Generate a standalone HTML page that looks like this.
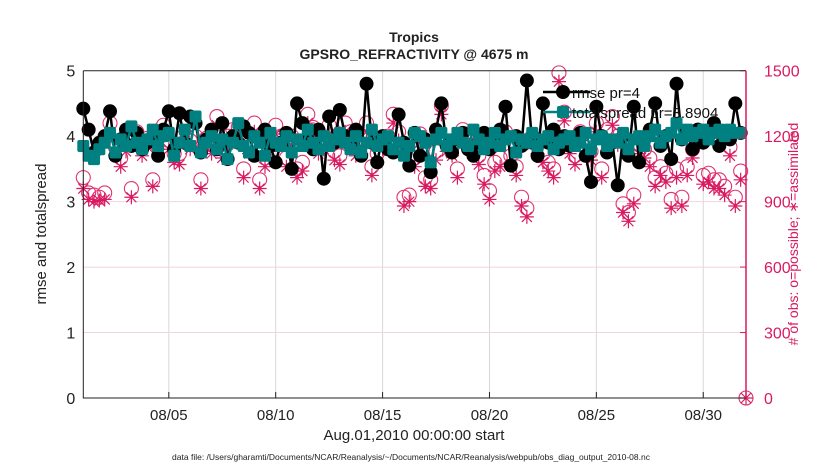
<!DOCTYPE html>
<html><head><meta charset="utf-8"><style>
body{margin:0;background:#fff;}
svg{display:block;font-family:"Liberation Sans",Arial,sans-serif;}
</style></head><body>
<svg id="chart" width="830" height="470">
<g id="grid"></g>
<g id="obs"></g>
<g id="lines"></g>
<g id="axes"></g>
<text x="414" y="42" text-anchor="middle" font-size="14" font-weight="bold" fill="#222">Tropics</text>
<text x="414" y="59" text-anchor="middle" font-size="14" font-weight="bold" fill="#222">GPSRO_REFRACTIVITY @ 4675 m</text>
<text x="414" y="440" text-anchor="middle" font-size="15" fill="#222">Aug.01,2010 00:00:00 start</text>
<text x="411" y="460" text-anchor="middle" font-size="8.5" fill="#222">data file: /Users/gharamti/Documents/NCAR/Reanalysis/~/Documents/NCAR/Reanalysis/webpub/obs_diag_output_2010-08.nc</text>
<text transform="translate(46,234) rotate(-90)" text-anchor="middle" font-size="15" fill="#222">rmse and totalspread</text>
<text transform="translate(798,234) rotate(-90)" text-anchor="middle" font-size="14" fill="#d81b60"># of obs: o=possible; &#x2217;=assimilated</text>
<g id="legend">
  <line x1="543" y1="92" x2="590" y2="92" stroke="#000" stroke-width="2.5"/>
  <circle cx="563" cy="92" r="7" fill="#000"/>
  <text x="572" y="98" font-size="15" fill="#111">rmse pr=4</text>
  <line x1="543" y1="112" x2="590" y2="112" stroke="#008080" stroke-width="2.5"/>
  <rect x="557" y="106" width="12" height="12" rx="2" fill="#008080"/>
  <text x="572" y="118" font-size="15" fill="#111">totalspread pr=3.8904</text>
</g>
</svg>
<script>
const rmse=[4.42,4.1,3.75,3.9,4.0,4.38,3.7,3.95,4.1,3.85,
4.05,3.8,3.9,4.0,3.7,4.1,4.38,3.8,4.35,3.9,
4.3,4.2,3.75,3.95,4.1,3.8,4.2,3.65,4.0,3.9,
4.15,4.05,3.7,3.95,4.1,3.85,3.6,3.9,4.05,3.5,
4.5,4.2,3.95,3.8,4.1,3.35,4.3,3.9,4.4,4.0,
3.85,4.1,3.7,4.8,3.9,3.6,4.0,3.8,3.75,4.33,
3.9,3.55,4.05,3.7,3.95,3.45,4.1,4.5,3.85,3.75,
3.95,4.05,3.8,3.7,3.9,4.05,3.8,3.95,4.1,4.45,
3.55,4.0,3.85,4.85,3.9,3.7,4.5,3.9,4.1,3.8,
4.0,3.85,3.95,4.05,3.7,3.3,4.45,4.0,3.75,3.9,
3.25,4.0,3.7,4.45,3.6,3.95,4.1,4.5,3.85,4.0,
3.65,4.8,3.95,4.05,3.8,4.1,3.9,4.0,4.2,3.85,
4.05,3.95,4.5,4.05,null];
const spread=[3.85,3.7,3.65,3.8,3.9,4.05,3.75,3.95,3.85,4.15,
3.9,3.8,3.95,4.1,3.85,4.0,4.05,3.7,3.9,4.1,
3.85,4.3,3.75,3.9,4.0,3.8,3.95,3.65,3.9,4.2,
3.85,3.75,4.0,3.9,3.7,4.05,3.9,3.85,4.0,3.75,
3.95,3.85,4.1,3.9,3.8,4.0,3.85,3.95,4.05,3.9,
3.8,4.0,3.75,3.9,4.1,3.85,3.95,4.0,3.8,3.9,
3.7,3.85,4.05,4.0,3.9,3.6,3.95,4.05,3.85,3.95,
4.05,3.9,3.85,4.1,3.95,3.8,3.9,4.05,3.85,3.95,
4.0,3.75,3.95,3.9,4.05,3.85,3.95,4.0,3.8,3.9,
3.95,4.0,3.85,3.9,4.05,3.8,3.95,4.0,3.85,3.95,
3.9,4.05,3.8,3.95,4.0,3.85,4.0,4.1,3.9,4.0,
4.05,4.2,3.95,4.1,4.0,4.05,4.1,3.95,4.05,4.1,
4.0,4.1,4.05,4.05,null];
const possible=[1010,940,930,920,940,1260,1150,1100,1180,960,
1220,1150,1190,1000,1190,1250,1180,1120,1120,1260,
1180,1200,1000,1190,1160,1290,1140,1200,1230,1240,
1050,1160,1260,1000,1100,1170,1250,1200,1100,1200,
1050,1080,1300,1240,1160,1180,1250,1130,1110,1260,
1220,1150,1160,1260,1060,1120,1180,1200,1300,1220,
920,930,1100,1210,1010,1000,1130,1340,1170,1150,
1050,1230,1210,1180,1110,1020,950,1080,1100,1220,
1110,1060,920,870,1200,1160,1120,1080,1050,1490,
1310,1160,1110,1220,1150,1130,1260,1050,1230,1290,
1200,890,850,930,1160,1140,1100,1010,1060,1030,
910,1050,920,1060,1140,1220,1020,1030,1000,1000,
970,1150,920,1040,0];
const assimilated=[960,910,900,905,910,1190,1110,1060,1130,920,
1170,1110,1150,970,1140,1200,1140,1080,1070,1220,
1140,1150,960,1150,1120,1250,1100,1160,1190,1200,
1010,1120,1220,960,1060,1130,1210,1160,1060,1160,
1010,1040,1260,1200,1120,1140,1210,1090,1070,1220,
1180,1110,1120,1220,1020,1080,1140,1160,1260,1180,
880,900,1060,1170,970,960,1090,1300,1130,1110,
1010,1190,1170,1140,1070,980,910,1040,1060,1180,
1070,1020,880,830,1160,1120,1080,1040,1010,1450,
1270,1120,1070,1180,1110,1090,1220,1010,1190,1250,
1160,850,810,890,1120,1100,1060,970,1020,990,
870,1010,880,1020,1100,1180,980,990,960,960,
930,1110,880,1000,0];
const xTickDays=[5,10,15,20,25,30];
const xTickLabels=["08/05","08/10","08/15","08/20","08/25","08/30"];
const yLeftTicks=[0,1,2,3,4,5];
const yRightTicks=[0,300,600,900,1200,1500];
const startDay=1, stepDay=0.25;

const L=83.3,R=746,T=70.7,B=398;
const dayMin=1,dayMax=32;
const X=d=>L+(d-dayMin)/(dayMax-dayMin)*(R-L);
const YL=v=>B-v/5*(B-T);
const YR=v=>B-v/1500*(B-T);
const NS="http://www.w3.org/2000/svg";
function mk(tag,attrs,parent){const e=document.createElementNS(NS,tag);for(const k in attrs)e.setAttribute(k,attrs[k]);parent.appendChild(e);return e;}
const grid=document.getElementById('grid'),axes=document.getElementById('axes'),obs=document.getElementById('obs'),lines=document.getElementById('lines');

xTickDays.forEach((d,i)=>{
  const g=mk('line',{x1:X(d),x2:X(d),y1:T,y2:B,stroke:'#d8d8d8','stroke-width':1},grid);
  
  
  const tk=mk('line',{x1:X(d),x2:X(d),y1:B,y2:B-6,stroke:'#222'},axes);
  
  
  const t=mk('text',{x:X(d),y:B+22,'text-anchor':'middle','font-size':15,fill:'#222'},axes);
  t.textContent=xTickLabels[i];
  
  
});
yLeftTicks.forEach(v=>{
  if(v>0&&v<5){const g=mk('line',{x1:L,x2:R,y1:YL(v),y2:YL(v),stroke:'#f2d4df','stroke-width':1},grid);
  
  }
  const t=mk('text',{x:L-8,y:YL(v)+6,'text-anchor':'end','font-size':16,fill:'#222'},axes);
  t.textContent=v;
  
  
});
yRightTicks.forEach(v=>{
  const tk=mk('line',{x1:R,x2:R-6,y1:YR(v),y2:YR(v),stroke:'#d81b60'},axes);
  
  
  const t=mk('text',{x:R+18,y:YR(v)+6,'font-size':16,fill:'#d81b60'},axes);
  t.textContent=v;
  
  
});
let ax=mk('path',{d:`M${L},${T}H${R}M${L},${T}V${B}H${R}`,stroke:'#222',fill:'none','stroke-width':1},axes);


ax=mk('line',{x1:R,x2:R,y1:T,y2:B,stroke:'#d81b60','stroke-width':1.5},axes);



possible.forEach((v,i)=>{
  const d=startDay+i*stepDay,cx=X(d),cy=YR(v);
  const c=mk('circle',{cx:cx,cy:cy,r:7,fill:'none',stroke:'#e0336f','stroke-width':1.1},obs);
  
  
});
assimilated.forEach((v,i)=>{
  const d=startDay+i*stepDay,cx=X(d),cy=YR(v),s=7;
  const p=mk('path',{d:`M${cx-s},${cy}H${cx+s}M${cx},${cy-s}V${cy+s}M${cx-5},${cy-5}L${cx+5},${cy+5}M${cx-5},${cy+5}L${cx+5},${cy-5}`,stroke:'#d81b60','stroke-width':1.2,fill:'none'},obs);
  
  
});
function series(arr,color,name,marker){
  let dstr='';arr.forEach((v,i)=>{if(v==null)return;const x=X(startDay+i*stepDay),y=YL(v);dstr+=(dstr?'L':'M')+x+','+y;});
  const p=mk('path',{d:dstr,stroke:color,fill:'none','stroke-width':2.5},lines);
  
  
  arr.forEach((v,i)=>{if(v==null)return;const x=X(startDay+i*stepDay),y=YL(v);
    let m;
    if(marker==='circle'){m=mk('circle',{cx:x,cy:y,r:7,fill:color},lines);}
    else{m=mk('rect',{x:x-6,y:y-6,width:12,height:12,rx:2,fill:color},lines);}
    
    
  });
}
series(rmse,'#000','rmse','circle');
series(spread,'#008080','totalspread','square');
</script>
</body></html>
